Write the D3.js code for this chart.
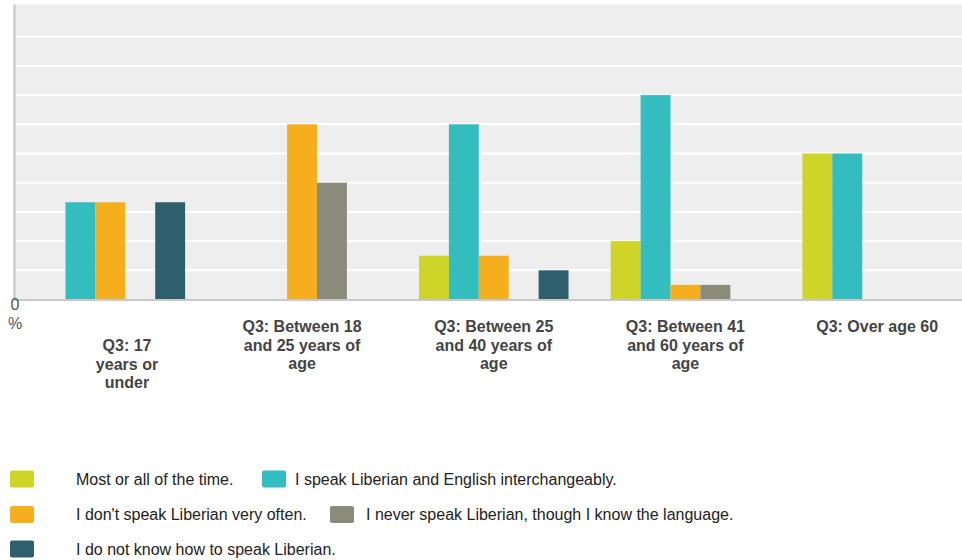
<!DOCTYPE html>
<html>
<head>
<meta charset="utf-8">
<script src="https://cdn.jsdelivr.net/npm/d3@7/dist/d3.min.js"></script>
<style>
  html, body { margin: 0; padding: 0; background: #fff; overflow: hidden; }
  svg { display: block; font-family: "Liberation Sans", Arial, sans-serif; }
</style>
</head>
<body>
<svg id="chart" width="962" height="560"></svg>
<script>
// Age groups (x categories), with wrapped label lines
const categories = [
  "Q3: 17 years or under",
  "Q3: Between 18 and 25 years of age",
  "Q3: Between 25 and 40 years of age",
  "Q3: Between 41 and 60 years of age",
  "Q3: Over age 60"
];
const categoryLines = [
  ["Q3: 17", "years or", "under"],
  ["Q3: Between 18", "and 25 years of", "age"],
  ["Q3: Between 25", "and 40 years of", "age"],
  ["Q3: Between 41", "and 60 years of", "age"],
  ["Q3: Over age 60"]
];

// Answer options (series)
const seriesNames = [
  "Most or all of the time.",
  "I speak Liberian and English interchangeably.",
  "I don't speak Liberian very often.",
  "I never speak Liberian, though I know the language.",
  "I do not know how to speak Liberian."
];
const seriesColors = ["#cfd428", "#33bdbe", "#f5af1e", "#8a8b7b", "#2d5f6d"];

// Percent of respondents per age group, one array per answer
const mostOrAll       = [0, 0, 15, 20, 50];
const interchangeable = [33.3, 0, 60, 70, 50];
const notVeryOften    = [33.3, 60, 15, 5, 0];
const neverSpeak      = [0, 40, 0, 5, 0];
const doNotKnow       = [33.3, 0, 10, 0, 0];
const seriesValues = [mostOrAll, interchangeable, notVeryOften, neverSpeak, doNotKnow];

const yTicks = [0, 10, 20, 30, 40, 50, 60, 70, 80, 90, 100];

const svg = d3.select("#chart");

const plotLeft = 14.5, plotRight = 973, plotTop = 7.5, plotBottom = 299.5;

const x0 = d3.scaleBand().domain(categories).range([plotLeft, plotRight]).padding(0);
const bw = x0.bandwidth();
const x1 = d3.scaleBand().domain(seriesNames).range([bw * 0.11, bw * 0.89]).padding(0);
const y = d3.scaleLinear().domain([0, 100]).range([plotBottom, plotTop]);

// plot background
svg.append("rect")
  .attr("x", plotLeft).attr("y", plotTop - 3)
  .attr("width", plotRight - plotLeft).attr("height", plotBottom - plotTop + 3)
  .attr("fill", "#eeeeee");

// horizontal gridlines
svg.append("g").selectAll("line")
  .data(yTicks.slice(1, -1))
  .join("line")
  .attr("x1", plotLeft).attr("x2", plotRight)
  .attr("y1", d => y(d)).attr("y2", d => y(d))
  .attr("stroke", "#ffffff").attr("stroke-width", 2);

// bars
const groups = svg.append("g").selectAll("g")
  .data(categories)
  .join("g")
  .attr("transform", d => `translate(${x0(d)},0)`);

groups.selectAll("rect")
  .data((c, ci) => seriesNames.map((s, si) => ({ s, si, v: seriesValues[si][ci] })))
  .join("rect")
  .filter(d => d.v > 0)
  .attr("x", d => x1(d.s))
  .attr("width", x1.bandwidth())
  .attr("y", d => y(d.v))
  .attr("height", d => plotBottom - y(d.v))
  .attr("fill", d => seriesColors[d.si]);

// y axis line and baseline
svg.append("line")
  .attr("x1", plotLeft).attr("x2", plotLeft)
  .attr("y1", plotTop - 3).attr("y2", plotBottom + 1)
  .attr("stroke", "#d4d4d4").attr("stroke-width", 3);
svg.append("line")
  .attr("x1", plotLeft - 1.5).attr("x2", plotRight)
  .attr("y1", plotBottom + 0.5).attr("y2", plotBottom + 0.5)
  .attr("stroke", "#c8c8c8").attr("stroke-width", 2);

// "0 %" y tick label
const zeroLabel = svg.append("text")
  .attr("x", 15).attr("y", 310)
  .attr("text-anchor", "middle")
  .attr("font-size", 16).attr("fill", "#555");
zeroLabel.append("tspan").attr("x", 15).attr("dy", 0).text("0");
zeroLabel.append("tspan").attr("x", 15).attr("dy", 19).text("%");

// category labels
const labelX = [127, null, null, null, null];
svg.append("g").selectAll("text")
  .data(categories)
  .join("text")
  .attr("text-anchor", "middle")
  .attr("font-size", 16).attr("font-weight", "bold").attr("fill", "#444")
  .each(function(c, i) {
    const cx = labelX[i] != null ? labelX[i] : x0(c) + bw / 2;
    const startY = i === 0 ? 351 : 332;
    d3.select(this).selectAll("tspan")
      .data(categoryLines[i])
      .join("tspan")
      .attr("x", cx)
      .attr("y", (d, li) => startY + li * 18.5)
      .text(d => d);
  });

// legend
const legendItems = [
  { i: 0, sx: 10, tx: 76, row: 0 },
  { i: 1, sx: 262, tx: 295, row: 0 },
  { i: 2, sx: 10, tx: 76, row: 1 },
  { i: 3, sx: 330, tx: 366, row: 1 },
  { i: 4, sx: 10, tx: 76, row: 2 }
];
const rowY = [479, 514.5, 549];
const legend = svg.append("g").selectAll("g")
  .data(legendItems)
  .join("g");
legend.append("rect")
  .attr("x", d => d.sx).attr("y", d => rowY[d.row] - 8.5)
  .attr("width", 24).attr("height", 17).attr("rx", 2)
  .attr("fill", d => seriesColors[d.i]);
legend.append("text")
  .attr("x", d => d.tx).attr("y", d => rowY[d.row] + 5.5)
  .attr("font-size", 16).attr("fill", "#222")
  .text(d => seriesNames[d.i]);
</script>
</body>
</html>
